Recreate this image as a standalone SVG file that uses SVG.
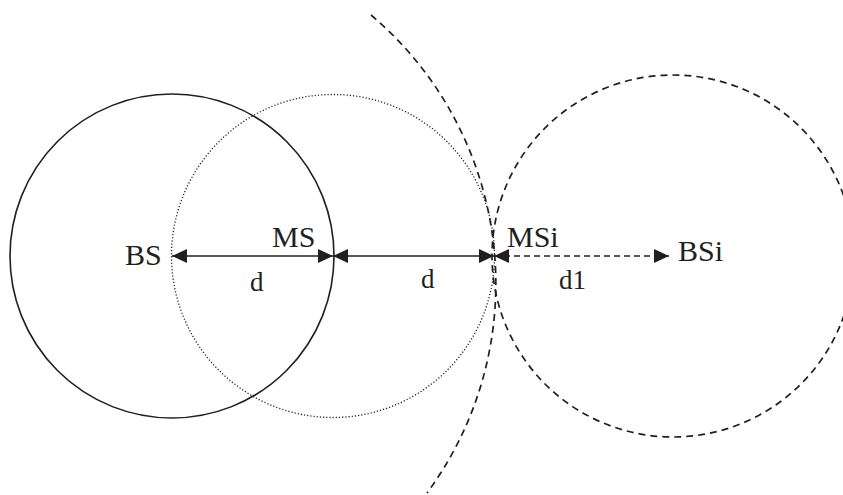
<svg xmlns="http://www.w3.org/2000/svg" width="843" height="495" viewBox="0 0 843 495">
<style>
.solid{fill:none;stroke:#231f20;stroke-width:1.6}
.dotted{fill:none;stroke:#231f20;stroke-width:1.3;stroke-dasharray:1.2 2}
.dashed{fill:none;stroke:#231f20;stroke-width:1.7;stroke-dasharray:7 5}
.conn{fill:none;stroke:#231f20;stroke-width:1.6}
text{fill:#231f20}
</style>
<defs>
<marker id="ah" markerUnits="userSpaceOnUse" markerWidth="16" markerHeight="14" refX="15" refY="7" orient="auto-start-reverse">
<path d="M0,0 L15,7 L0,14 z" fill="#231f20"/>
</marker>
</defs>
<g id="shapes">
<circle id="bs-range" class="solid" cx="172" cy="256" r="162"/>
<circle id="ms-range" class="dotted" cx="333" cy="256" r="161.5"/>
<circle id="bsi-range" class="dashed" cx="673" cy="256" r="181"/>
<path id="big-arc" class="dashed" d="M371,15 A352,352 0 0 1 427,493"/>
</g>
<g id="connectors">
<line class="conn" x1="172" y1="256" x2="333" y2="256" marker-start="url(#ah)" marker-end="url(#ah)"/>
<line class="conn" x1="333" y1="256" x2="494" y2="256" marker-start="url(#ah)" marker-end="url(#ah)"/>
<line class="conn" x1="494" y1="256" x2="669" y2="256" stroke-dasharray="6 4" marker-start="url(#ah)" marker-end="url(#ah)"/>
</g>
<g id="labels" font-family="Liberation Serif, Times New Roman, serif">
<text id="BS" font-size="30" x="125" y="265">BS</text>
<text id="MS" font-size="30" x="272" y="247">MS</text>
<text id="MSi" font-size="30" x="507" y="247">MSi</text>
<text id="BSi" font-size="30" x="678" y="261">BSi</text>
<text font-size="27" x="250" y="291">d</text>
<text font-size="27" x="421" y="288">d</text>
<text font-size="27" x="559" y="289">d1</text>
</g>
</svg>
